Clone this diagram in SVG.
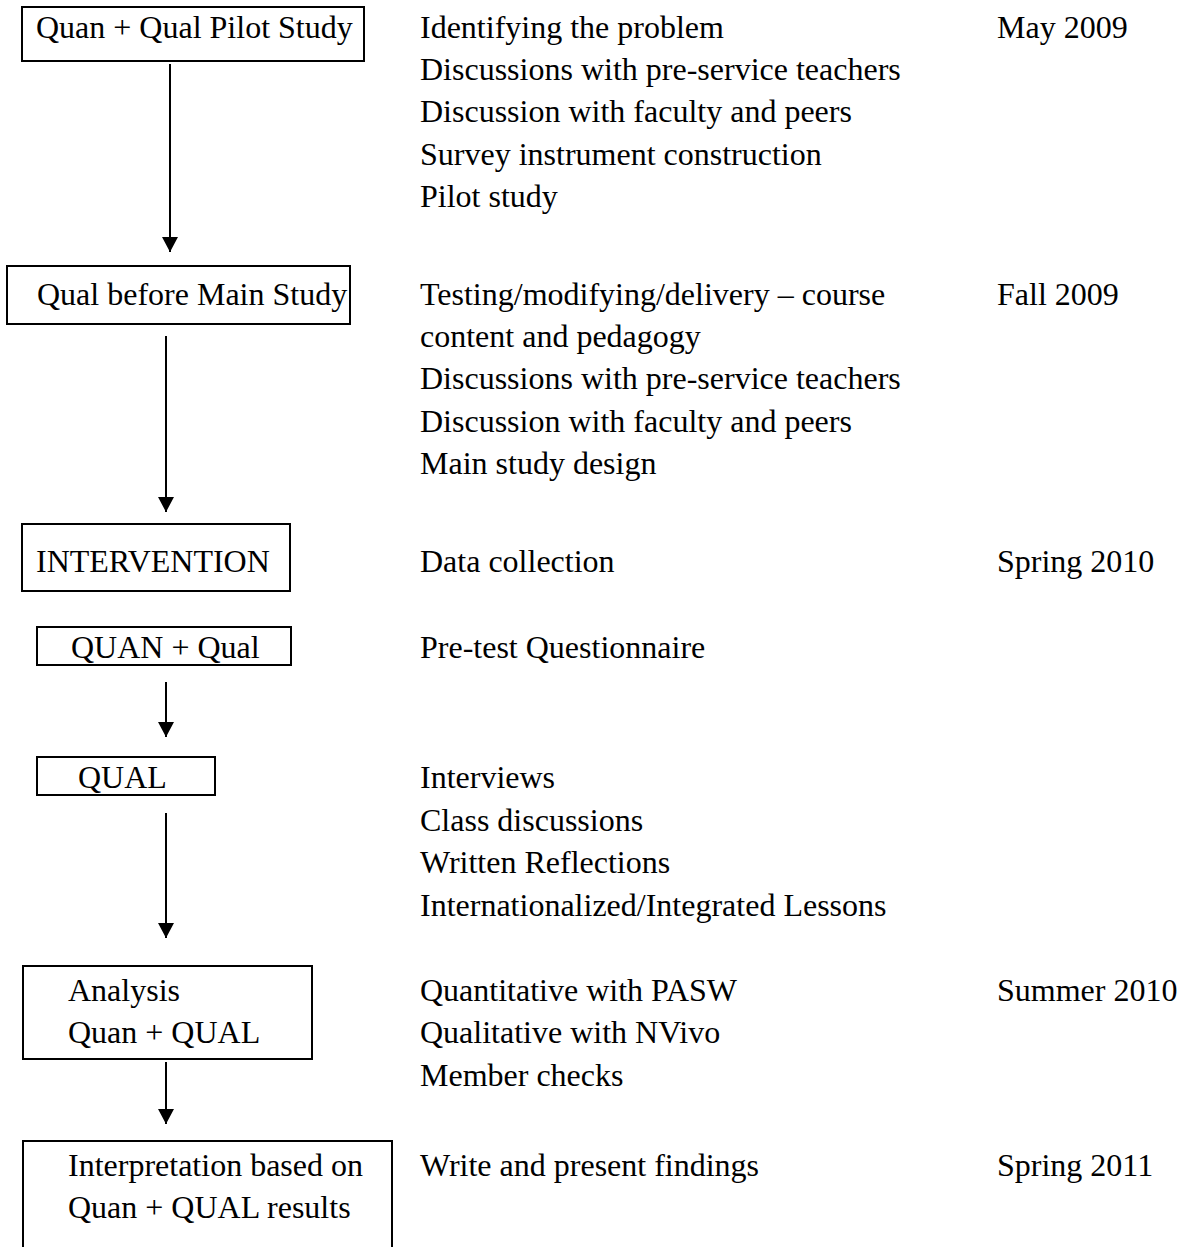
<svg xmlns="http://www.w3.org/2000/svg" width="1186" height="1247" viewBox="0 0 1186 1247">
<style>
text{font-family:"Liberation Serif","Times New Roman",serif;font-size:32px;fill:#000}
.box{fill:#fff;stroke:#000;stroke-width:2}
.conn{stroke:#000;stroke-width:2;fill:none}
</style>
<defs>
<marker id="ah" markerUnits="userSpaceOnUse" markerWidth="15" markerHeight="16" viewBox="0 0 15 16" refX="15" refY="8" orient="auto">
<path d="M0,0 L15,8 L0,16 z" fill="#000"/>
</marker>
</defs>
<rect width="1186" height="1247" fill="#fff"/>
<g id="connectors">
<line class="conn" x1="170" y1="64" x2="170" y2="252" marker-end="url(#ah)"/>
<line class="conn" x1="166" y1="336" x2="166" y2="512" marker-end="url(#ah)"/>
<line class="conn" x1="166" y1="682" x2="166" y2="737" marker-end="url(#ah)"/>
<line class="conn" x1="166" y1="813" x2="166" y2="938" marker-end="url(#ah)"/>
<line class="conn" x1="166" y1="1062" x2="166" y2="1124" marker-end="url(#ah)"/>
</g>
<g id="node-pilot">
<rect class="box" x="22" y="7" width="342" height="54"/>
<text x="36" y="38">Quan + Qual Pilot Study</text>
</g>
<g id="node-qual-before">
<rect class="box" x="7" y="266" width="343" height="58"/>
<text x="37" y="305">Qual before Main Study</text>
</g>
<g id="node-intervention">
<rect class="box" x="22" y="524" width="268" height="67"/>
<text x="36" y="572">INTERVENTION</text>
</g>
<g id="node-quan-qual">
<rect class="box" x="37" y="627" width="254" height="38"/>
<text x="71" y="658">QUAN + Qual</text>
</g>
<g id="node-qual">
<rect class="box" x="37" y="757" width="178" height="38"/>
<text x="78" y="788">QUAL</text>
</g>
<g id="node-analysis">
<rect class="box" x="23" y="966" width="289" height="93"/>
<text x="68" y="1001">Analysis</text>
<text x="68" y="1043">Quan + QUAL</text>
</g>
<g id="node-interpretation">
<rect class="box" x="23" y="1141" width="369" height="130"/>
<text x="68" y="1176">Interpretation based on</text>
<text x="68" y="1218">Quan + QUAL results</text>
</g>
<g id="activities">
<text x="420" y="38">Identifying the problem</text>
<text x="420" y="80">Discussions with pre-service teachers</text>
<text x="420" y="122">Discussion with faculty and peers</text>
<text x="420" y="165">Survey instrument construction</text>
<text x="420" y="207">Pilot study</text>
<text x="420" y="305">Testing/modifying/delivery – course</text>
<text x="420" y="347">content and pedagogy</text>
<text x="420" y="389">Discussions with pre-service teachers</text>
<text x="420" y="432">Discussion with faculty and peers</text>
<text x="420" y="474">Main study design</text>
<text x="420" y="572">Data collection</text>
<text x="420" y="658">Pre-test Questionnaire</text>
<text x="420" y="788">Interviews</text>
<text x="420" y="831">Class discussions</text>
<text x="420" y="873">Written Reflections</text>
<text x="420" y="916">Internationalized/Integrated Lessons</text>
<text x="420" y="1001">Quantitative with PASW</text>
<text x="420" y="1043">Qualitative with NVivo</text>
<text x="420" y="1086">Member checks</text>
<text x="420" y="1176">Write and present findings</text>
</g>
<g id="dates">
<text x="997" y="38">May 2009</text>
<text x="997" y="305">Fall 2009</text>
<text x="997" y="572">Spring 2010</text>
<text x="997" y="1001">Summer 2010</text>
<text x="997" y="1176">Spring 2011</text>
</g>
</svg>
